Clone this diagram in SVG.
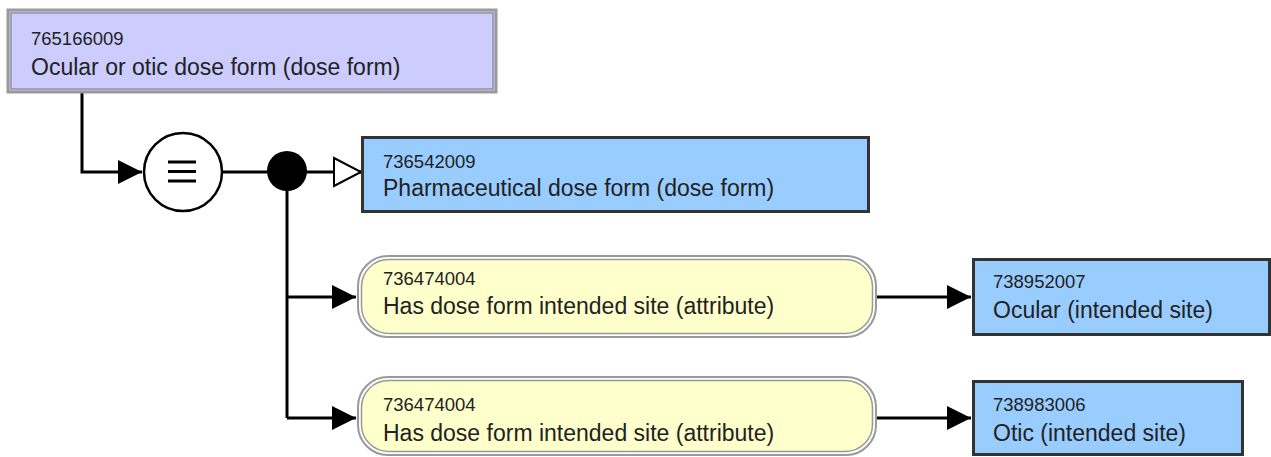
<svg xmlns="http://www.w3.org/2000/svg" width="1271" height="457" viewBox="0 0 1271 457">
<defs>
<style>
.id{font-family:"Liberation Sans",Arial,sans-serif;font-size:18.5px;fill:#222}
.lbl{font-family:"Liberation Sans",Arial,sans-serif;font-size:23px;fill:#222}
.concept{fill:#99ccff;stroke:#333;stroke-width:3}
.attr-out{fill:none;stroke:#999;stroke-width:2}
.attr-in{fill:#ffffcc;stroke:#999;stroke-width:1.5}
.conn{fill:none;stroke:#000;stroke-width:3}
</style>
<marker id="arr" markerUnits="userSpaceOnUse" markerWidth="26" markerHeight="26" refX="24" refY="12" orient="auto" overflow="visible">
<path d="M0,0 L24,12 L0,24 z" fill="#000"/>
</marker>
<marker id="hollow" markerUnits="userSpaceOnUse" markerWidth="30" markerHeight="30" refX="27" refY="14" orient="auto" overflow="visible">
<path d="M0,0 L27,14 L0,28 z" fill="#fff" stroke="#000" stroke-width="2"/>
</marker>
</defs>

<g id="connectors">
<path class="conn" d="M82,93 V172 H142" marker-end="url(#arr)"/>
<path class="conn" d="M222,172 H268"/>
<path class="conn" d="M306,172 H361" marker-end="url(#hollow)"/>
<path class="conn" d="M287,190 V418"/>
<path class="conn" d="M287,297 H356" marker-end="url(#arr)"/>
<path class="conn" d="M287,418 H356" marker-end="url(#arr)"/>
<path class="conn" d="M876,297 H971" marker-end="url(#arr)"/>
<path class="conn" d="M876,418 H971" marker-end="url(#arr)"/>
</g>

<g id="node-765166009">
<rect x="8" y="10" width="488" height="82" fill="#ccccff" stroke="#9a9a9a" stroke-width="3"/>
<rect x="11" y="13" width="482" height="76" fill="none" stroke="#777" stroke-width="1"/>
<text class="id" x="31" y="45">765166009</text>
<text class="lbl" x="31" y="75">Ocular or otic dose form (dose form)</text>
</g>

<g id="node-equiv">
<circle cx="183" cy="172" r="39" fill="#fff" stroke="#000" stroke-width="2.5"/>
<path d="M168,162 H196 M168,171.5 H196 M168,181 H196" stroke="#000" stroke-width="3"/>
</g>

<g id="node-conj">
<circle cx="287" cy="171" r="20" fill="#000"/>
</g>

<g id="node-736542009">
<rect class="concept" x="362.5" y="137.5" width="506" height="74"/>
<text class="id" x="383" y="168">736542009</text>
<text class="lbl" x="383" y="196">Pharmaceutical dose form (dose form)</text>
</g>

<g id="node-attr1">
<rect class="attr-out" x="358" y="256" width="518" height="81" rx="30"/>
<rect class="attr-in" x="361.5" y="259.5" width="511" height="74" rx="27"/>
<text class="id" x="383" y="285">736474004</text>
<text class="lbl" x="383" y="314">Has dose form intended site (attribute)</text>
</g>

<g id="node-738952007">
<rect class="concept" x="973.5" y="259.5" width="296" height="75"/>
<text class="id" x="993" y="288">738952007</text>
<text class="lbl" x="993" y="318">Ocular (intended site)</text>
</g>

<g id="node-attr2">
<rect class="attr-out" x="358" y="377" width="518" height="78" rx="30"/>
<rect class="attr-in" x="361.5" y="380.5" width="511" height="71" rx="27"/>
<text class="id" x="383" y="411">736474004</text>
<text class="lbl" x="383" y="441">Has dose form intended site (attribute)</text>
</g>

<g id="node-738983006">
<rect class="concept" x="973.5" y="381.5" width="269" height="73"/>
<text class="id" x="993" y="411">738983006</text>
<text class="lbl" x="993" y="441">Otic (intended site)</text>
</g>
</svg>
